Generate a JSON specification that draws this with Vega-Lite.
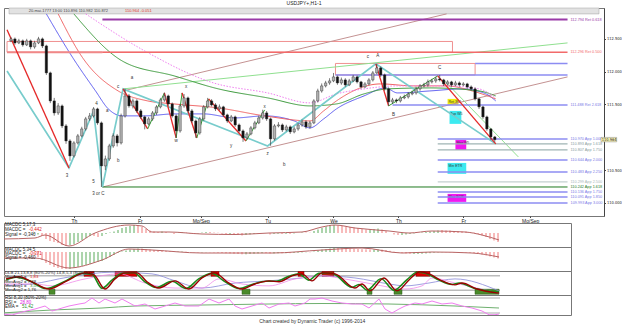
{
"$schema": "https://vega.github.io/schema/vega-lite/v6.json",
"background": "white",
"padding": {"left": 2, "top": 0, "right": 0, "bottom": 0},
"spacing": 7,
"bounds": "flush",
"title": {"text": "Chart created by Dynamic Trader  (c) 1996-2014", "orient": "bottom", "anchor": "middle", "fontSize": 5, "fontWeight": "normal", "font": "Liberation Sans", "color": "#333", "offset": 3},
"config": {
  "view": {"stroke": "#777", "strokeWidth": 1},
  "axis": {"labelFont": "Liberation Sans", "labelColor": "#222", "tickColor": "#444", "domainColor": "#444", "grid": false, "title": null},
  "text": {"font": "Liberation Sans", "fontSize": 4.5}
},
"datasets": {
"c": [
{"i":0,"o":112.470,"h":112.53,"l":112.45,"c":112.499,"a":0,"ad":"g","e":0,"ed":"g"},
{"i":1,"o":112.499,"h":112.52,"l":112.41,"c":112.438,"a":0,"ad":"g","e":0,"ed":"g"},
{"i":2,"o":112.438,"h":112.50,"l":112.42,"c":112.469,"a":0,"ad":"g","e":0,"ed":"g"},
{"i":3,"o":112.469,"h":112.49,"l":112.38,"c":112.408,"a":0,"ad":"g","e":0,"ed":"g"},
{"i":4,"o":112.408,"h":112.50,"l":112.39,"c":112.469,"a":0,"ad":"g","e":0,"ed":"g"},
{"i":5,"o":112.469,"h":112.49,"l":112.34,"c":112.377,"a":0,"ad":"g","e":0,"ed":"g"},
{"i":6,"o":112.377,"h":112.47,"l":112.35,"c":112.438,"a":0,"ad":"g","e":0,"ed":"g"},
{"i":7,"o":112.438,"h":112.53,"l":112.42,"c":112.499,"a":-0.05,"ad":"g","e":-0.10,"ed":"r"},
{"i":8,"o":112.499,"h":112.52,"l":112.36,"c":112.392,"a":-0.075,"ad":"g","e":-0.25,"ed":"r"},
{"i":9,"o":112.392,"h":112.41,"l":111.95,"c":111.981,"a":-0.15,"ad":"r","e":-0.40,"ed":"r"},
{"i":10,"o":111.981,"h":112.00,"l":111.52,"c":111.554,"a":-0.30,"ad":"r","e":-0.55,"ed":"r"},
{"i":11,"o":111.554,"h":111.60,"l":111.33,"c":111.371,"a":-0.40,"ad":"r","e":-0.65,"ed":"r"},
{"i":12,"o":111.371,"h":111.52,"l":111.34,"c":111.478,"a":-0.45,"ad":"r","e":-0.75,"ed":"r"},
{"i":13,"o":111.478,"h":111.50,"l":111.14,"c":111.173,"a":-0.50,"ad":"r","e":-0.80,"ed":"r"},
{"i":14,"o":111.173,"h":111.20,"l":110.90,"c":110.944,"a":-0.60,"ad":"r","e":-0.85,"ed":"r"},
{"i":15,"o":110.944,"h":110.97,"l":110.64,"c":110.716,"a":-0.65,"ad":"r","e":-0.85,"ed":"r"},
{"i":16,"o":110.716,"h":110.94,"l":110.69,"c":110.914,"a":-0.60,"ad":"g","e":-0.85,"ed":"g"},
{"i":17,"o":110.914,"h":111.05,"l":110.89,"c":111.021,"a":-0.55,"ad":"g","e":-0.80,"ed":"g"},
{"i":18,"o":111.021,"h":111.16,"l":111.00,"c":111.127,"a":-0.45,"ad":"g","e":-0.75,"ed":"g"},
{"i":19,"o":111.127,"h":111.31,"l":111.10,"c":111.280,"a":-0.35,"ad":"g","e":-0.70,"ed":"g"},
{"i":20,"o":111.280,"h":111.37,"l":111.25,"c":111.325,"a":-0.25,"ad":"g","e":-0.65,"ed":"g"},
{"i":21,"o":111.325,"h":111.46,"l":111.30,"c":111.432,"a":-0.15,"ad":"g","e":-0.60,"ed":"g"},
{"i":22,"o":111.432,"h":111.45,"l":111.19,"c":111.219,"a":-0.15,"ad":"r","e":-0.55,"ed":"g"},
{"i":23,"o":111.219,"h":111.24,"l":110.242,"c":110.563,"a":-0.20,"ad":"r","e":-0.50,"ed":"g"},
{"i":24,"o":110.563,"h":110.72,"l":110.50,"c":110.670,"a":-0.15,"ad":"g","e":-0.45,"ed":"g"},
{"i":25,"o":110.670,"h":110.90,"l":110.64,"c":110.868,"a":-0.05,"ad":"g","e":-0.35,"ed":"g"},
{"i":26,"o":110.868,"h":111.06,"l":110.84,"c":111.021,"a":0.025,"ad":"g","e":-0.25,"ed":"g"},
{"i":27,"o":111.021,"h":111.05,"l":110.86,"c":110.914,"a":0.075,"ad":"g","e":-0.15,"ed":"g"},
{"i":28,"o":110.914,"h":111.36,"l":110.89,"c":111.325,"a":0.15,"ad":"g","e":-0.05,"ed":"g"},
{"i":29,"o":111.325,"h":111.74,"l":111.30,"c":111.630,"a":0.25,"ad":"g","e":0.025,"ed":"g"},
{"i":30,"o":111.630,"h":111.66,"l":111.45,"c":111.478,"a":0.30,"ad":"g","e":0.075,"ed":"g"},
{"i":31,"o":111.478,"h":111.59,"l":111.44,"c":111.554,"a":0.35,"ad":"g","e":0.125,"ed":"g"},
{"i":32,"o":111.554,"h":111.58,"l":111.37,"c":111.402,"a":0.40,"ad":"g","e":0.15,"ed":"g"},
{"i":33,"o":111.402,"h":111.43,"l":111.28,"c":111.310,"a":0.375,"ad":"r","e":0.175,"ed":"g"},
{"i":34,"o":111.310,"h":111.33,"l":111.12,"c":111.204,"a":0.30,"ad":"r","e":0.175,"ed":"r"},
{"i":35,"o":111.204,"h":111.31,"l":111.18,"c":111.280,"a":0.20,"ad":"r","e":0.15,"ed":"r"},
{"i":36,"o":111.280,"h":111.40,"l":111.25,"c":111.371,"a":0.125,"ad":"r","e":0.125,"ed":"r"},
{"i":37,"o":111.371,"h":111.49,"l":111.34,"c":111.463,"a":0.075,"ad":"r","e":0.10,"ed":"r"},
{"i":38,"o":111.463,"h":111.60,"l":111.44,"c":111.569,"a":0.05,"ad":"r","e":0.075,"ed":"r"},
{"i":39,"o":111.569,"h":111.68,"l":111.54,"c":111.630,"a":0.075,"ad":"g","e":0.06,"ed":"r"},
{"i":40,"o":111.630,"h":111.65,"l":111.48,"c":111.508,"a":0.05,"ad":"r","e":0.05,"ed":"r"},
{"i":41,"o":111.508,"h":111.53,"l":111.30,"c":111.325,"a":0,"ad":"r","e":0.04,"ed":"r"},
{"i":42,"o":111.325,"h":111.35,"l":110.99,"c":111.097,"a":-0.05,"ad":"r","e":0.025,"ed":"r"},
{"i":43,"o":111.097,"h":111.51,"l":111.07,"c":111.478,"a":0.025,"ad":"g","e":0.025,"ed":"g"},
{"i":44,"o":111.478,"h":111.66,"l":111.45,"c":111.600,"a":0.05,"ad":"g","e":0.025,"ed":"g"},
{"i":45,"o":111.600,"h":111.62,"l":111.37,"c":111.402,"a":0.025,"ad":"r","e":0.015,"ed":"r"},
{"i":46,"o":111.402,"h":111.43,"l":111.22,"c":111.249,"a":-0.025,"ad":"r","e":0,"ed":"r"},
{"i":47,"o":111.249,"h":111.27,"l":110.99,"c":111.066,"a":-0.05,"ad":"r","e":-0.015,"ed":"r"},
{"i":48,"o":111.066,"h":111.31,"l":111.04,"c":111.280,"a":-0.025,"ad":"g","e":-0.025,"ed":"r"},
{"i":49,"o":111.280,"h":111.49,"l":111.25,"c":111.463,"a":0.025,"ad":"g","e":-0.025,"ed":"g"},
{"i":50,"o":111.463,"h":111.60,"l":111.44,"c":111.554,"a":0.05,"ad":"g","e":-0.015,"ed":"g"},
{"i":51,"o":111.554,"h":111.58,"l":111.47,"c":111.493,"a":0.05,"ad":"r","e":-0.015,"ed":"r"},
{"i":52,"o":111.493,"h":111.52,"l":111.40,"c":111.432,"a":0.025,"ad":"r","e":-0.025,"ed":"r"},
{"i":53,"o":111.432,"h":111.50,"l":111.41,"c":111.463,"a":0.015,"ad":"r","e":-0.04,"ed":"r"},
{"i":54,"o":111.463,"h":111.48,"l":111.31,"c":111.341,"a":-0.025,"ad":"r","e":-0.05,"ed":"r"},
{"i":55,"o":111.341,"h":111.36,"l":111.22,"c":111.249,"a":-0.05,"ad":"r","e":-0.065,"ed":"r"},
{"i":56,"o":111.249,"h":111.34,"l":111.23,"c":111.310,"a":-0.05,"ad":"g","e":-0.075,"ed":"r"},
{"i":57,"o":111.310,"h":111.33,"l":111.16,"c":111.188,"a":-0.075,"ad":"r","e":-0.09,"ed":"r"},
{"i":58,"o":111.188,"h":111.21,"l":111.07,"c":111.097,"a":-0.10,"ad":"r","e":-0.10,"ed":"r"},
{"i":59,"o":111.097,"h":111.12,"l":110.93,"c":110.990,"a":-0.125,"ad":"r","e":-0.115,"ed":"r"},
{"i":60,"o":110.990,"h":111.08,"l":110.96,"c":111.051,"a":-0.10,"ad":"g","e":-0.115,"ed":"g"},
{"i":61,"o":111.051,"h":111.17,"l":111.03,"c":111.143,"a":-0.075,"ad":"g","e":-0.10,"ed":"g"},
{"i":62,"o":111.143,"h":111.25,"l":111.12,"c":111.219,"a":-0.05,"ad":"g","e":-0.09,"ed":"g"},
{"i":63,"o":111.219,"h":111.33,"l":111.20,"c":111.295,"a":-0.025,"ad":"g","e":-0.075,"ed":"g"},
{"i":64,"o":111.295,"h":111.42,"l":111.27,"c":111.371,"a":0,"ad":"g","e":-0.06,"ed":"g"},
{"i":65,"o":111.371,"h":111.40,"l":111.25,"c":111.280,"a":0,"ad":"r","e":-0.06,"ed":"r"},
{"i":66,"o":111.280,"h":111.30,"l":110.87,"c":110.975,"a":-0.075,"ad":"r","e":-0.075,"ed":"r"},
{"i":67,"o":110.975,"h":111.20,"l":110.95,"c":111.173,"a":-0.05,"ad":"g","e":-0.075,"ed":"g"},
{"i":68,"o":111.173,"h":111.23,"l":111.15,"c":111.188,"a":-0.04,"ad":"g","e":-0.065,"ed":"g"},
{"i":69,"o":111.188,"h":111.21,"l":111.08,"c":111.112,"a":-0.05,"ad":"r","e":-0.065,"ed":"r"},
{"i":70,"o":111.112,"h":111.19,"l":111.09,"c":111.158,"a":-0.04,"ad":"g","e":-0.06,"ed":"g"},
{"i":71,"o":111.158,"h":111.18,"l":111.05,"c":111.082,"a":-0.05,"ad":"r","e":-0.06,"ed":"r"},
{"i":72,"o":111.082,"h":111.16,"l":111.06,"c":111.127,"a":-0.025,"ad":"g","e":-0.05,"ed":"g"},
{"i":73,"o":111.127,"h":111.22,"l":111.10,"c":111.188,"a":0,"ad":"g","e":-0.04,"ed":"g"},
{"i":74,"o":111.188,"h":111.27,"l":111.16,"c":111.234,"a":0.025,"ad":"g","e":-0.025,"ed":"g"},
{"i":75,"o":111.234,"h":111.26,"l":111.13,"c":111.158,"a":0.025,"ad":"r","e":-0.015,"ed":"g"},
{"i":76,"o":111.158,"h":111.25,"l":111.13,"c":111.219,"a":0.015,"ad":"r","e":-0.015,"ed":"r"},
{"i":77,"o":111.219,"h":111.58,"l":111.20,"c":111.554,"a":0.10,"ad":"g","e":0.025,"ed":"g"},
{"i":78,"o":111.554,"h":111.74,"l":111.53,"c":111.706,"a":0.175,"ad":"g","e":0.075,"ed":"g"},
{"i":79,"o":111.706,"h":111.82,"l":111.68,"c":111.783,"a":0.25,"ad":"g","e":0.125,"ed":"g"},
{"i":80,"o":111.783,"h":111.86,"l":111.76,"c":111.828,"a":0.325,"ad":"g","e":0.15,"ed":"g"},
{"i":81,"o":111.828,"h":111.90,"l":111.80,"c":111.859,"a":0.375,"ad":"g","e":0.175,"ed":"g"},
{"i":82,"o":111.859,"h":111.98,"l":111.84,"c":111.920,"a":0.40,"ad":"g","e":0.20,"ed":"g"},
{"i":83,"o":111.920,"h":111.94,"l":111.80,"c":111.828,"a":0.375,"ad":"r","e":0.20,"ed":"r"},
{"i":84,"o":111.828,"h":111.91,"l":111.80,"c":111.874,"a":0.35,"ad":"r","e":0.19,"ed":"r"},
{"i":85,"o":111.874,"h":111.90,"l":111.77,"c":111.798,"a":0.325,"ad":"r","e":0.18,"ed":"r"},
{"i":86,"o":111.798,"h":111.89,"l":111.78,"c":111.859,"a":0.30,"ad":"r","e":0.17,"ed":"r"},
{"i":87,"o":111.859,"h":111.95,"l":111.84,"c":111.920,"a":0.275,"ad":"r","e":0.16,"ed":"r"},
{"i":88,"o":111.920,"h":111.94,"l":111.82,"c":111.844,"a":0.25,"ad":"r","e":0.15,"ed":"r"},
{"i":89,"o":111.844,"h":111.86,"l":111.74,"c":111.767,"a":0.20,"ad":"r","e":0.14,"ed":"r"},
{"i":90,"o":111.767,"h":111.84,"l":111.75,"c":111.813,"a":0.175,"ad":"r","e":0.13,"ed":"r"},
{"i":91,"o":111.813,"h":111.90,"l":111.79,"c":111.874,"a":0.175,"ad":"g","e":0.125,"ed":"r"},
{"i":92,"o":111.874,"h":112.01,"l":111.85,"c":111.981,"a":0.20,"ad":"g","e":0.125,"ed":"g"},
{"i":93,"o":111.981,"h":112.118,"l":111.96,"c":112.057,"a":0.225,"ad":"g","e":0.13,"ed":"g"},
{"i":94,"o":112.057,"h":112.08,"l":111.92,"c":111.950,"a":0.175,"ad":"r","e":0.12,"ed":"r"},
{"i":95,"o":111.950,"h":111.97,"l":111.71,"c":111.737,"a":0.10,"ad":"r","e":0.10,"ed":"r"},
{"i":96,"o":111.737,"h":111.76,"l":111.478,"c":111.539,"a":0,"ad":"r","e":0.06,"ed":"r"},
{"i":97,"o":111.539,"h":111.60,"l":111.51,"c":111.569,"a":-0.075,"ad":"r","e":0.015,"ed":"r"},
{"i":98,"o":111.569,"h":111.59,"l":111.52,"c":111.554,"a":-0.10,"ad":"r","e":-0.025,"ed":"r"},
{"i":99,"o":111.554,"h":111.63,"l":111.53,"c":111.600,"a":-0.10,"ad":"g","e":-0.05,"ed":"r"},
{"i":100,"o":111.600,"h":111.65,"l":111.58,"c":111.615,"a":-0.075,"ad":"g","e":-0.075,"ed":"r"},
{"i":101,"o":111.615,"h":111.69,"l":111.59,"c":111.661,"a":-0.05,"ad":"g","e":-0.09,"ed":"r"},
{"i":102,"o":111.661,"h":111.71,"l":111.64,"c":111.676,"a":-0.025,"ad":"g","e":-0.10,"ed":"g"},
{"i":103,"o":111.676,"h":111.77,"l":111.65,"c":111.737,"a":0,"ad":"g","e":-0.10,"ed":"g"},
{"i":104,"o":111.737,"h":111.81,"l":111.71,"c":111.783,"a":0.025,"ad":"g","e":-0.09,"ed":"g"},
{"i":105,"o":111.783,"h":111.83,"l":111.76,"c":111.798,"a":0.05,"ad":"g","e":-0.075,"ed":"g"},
{"i":106,"o":111.798,"h":111.88,"l":111.77,"c":111.844,"a":0.075,"ad":"g","e":-0.06,"ed":"g"},
{"i":107,"o":111.844,"h":111.89,"l":111.82,"c":111.859,"a":0.10,"ad":"g","e":-0.04,"ed":"g"},
{"i":108,"o":111.859,"h":111.92,"l":111.83,"c":111.889,"a":0.125,"ad":"g","e":-0.025,"ed":"g"},
{"i":109,"o":111.889,"h":111.95,"l":111.85,"c":111.874,"a":0.15,"ad":"r","e":-0.015,"ed":"g"},
{"i":110,"o":111.874,"h":111.89,"l":111.78,"c":111.813,"a":0.125,"ad":"r","e":-0.015,"ed":"r"},
{"i":111,"o":111.813,"h":111.87,"l":111.79,"c":111.844,"a":0.125,"ad":"r","e":-0.015,"ed":"r"},
{"i":112,"o":111.844,"h":111.86,"l":111.77,"c":111.798,"a":0.10,"ad":"r","e":-0.02,"ed":"r"},
{"i":113,"o":111.798,"h":111.86,"l":111.78,"c":111.828,"a":0.10,"ad":"r","e":-0.02,"ed":"r"},
{"i":114,"o":111.828,"h":111.85,"l":111.77,"c":111.798,"a":0.075,"ad":"r","e":-0.025,"ed":"r"},
{"i":115,"o":111.798,"h":111.84,"l":111.78,"c":111.813,"a":0.075,"ad":"r","e":-0.03,"ed":"r"},
{"i":116,"o":111.813,"h":111.83,"l":111.74,"c":111.767,"a":0.05,"ad":"r","e":-0.04,"ed":"r"},
{"i":117,"o":111.767,"h":111.79,"l":111.71,"c":111.737,"a":0.025,"ad":"r","e":-0.05,"ed":"r"},
{"i":118,"o":111.737,"h":111.76,"l":111.56,"c":111.585,"a":-0.05,"ad":"r","e":-0.09,"ed":"r"},
{"i":119,"o":111.585,"h":111.60,"l":111.43,"c":111.463,"a":-0.125,"ad":"r","e":-0.125,"ed":"r"},
{"i":120,"o":111.463,"h":111.48,"l":111.28,"c":111.310,"a":-0.20,"ad":"r","e":-0.175,"ed":"r"},
{"i":121,"o":111.310,"h":111.33,"l":111.10,"c":111.127,"a":-0.30,"ad":"r","e":-0.225,"ed":"r"},
{"i":122,"o":111.127,"h":111.14,"l":110.96,"c":111.005,"a":-0.375,"ad":"r","e":-0.275,"ed":"r"},
{"i":123,"o":111.005,"h":111.02,"l":110.93,"c":110.964,"a":-0.45,"ad":"r","e":-0.325,"ed":"r"}
],
"ma": [
{"m":"MA1","i":9,"p":112.88},{"m":"MA1","i":15.75,"p":112.209},{"m":"MA1","i":21.5,"p":111.706},{"m":"MA1","i":24.75,"p":111.432},{"m":"MA1","i":28.25,"p":111.326},{"m":"MA1","i":34,"p":111.326},{"m":"MA1","i":41.5,"p":111.356},{"m":"MA1","i":49,"p":111.356},{"m":"MA1","i":57,"p":111.295},{"m":"MA1","i":64.5,"p":111.326},{"m":"MA1","i":72,"p":111.249},{"m":"MA1","i":76,"p":111.143},{"m":"MA1","i":79.5,"p":111.28},{"m":"MA1","i":82.75,"p":111.432},{"m":"MA1","i":89.75,"p":111.63},{"m":"MA1","i":95.25,"p":111.752},{"m":"MA1","i":98.25,"p":111.676},{"m":"MA1","i":106.5,"p":111.706},{"m":"MA1","i":114.75,"p":111.737},{"m":"MA1","i":120.75,"p":111.661},{"m":"MA1","i":123.25,"p":111.554},
{"m":"MA2","i":12,"p":112.88},{"m":"MA2","i":18.25,"p":112.209},{"m":"MA2","i":27.25,"p":111.706},{"m":"MA2","i":34.75,"p":111.554},{"m":"MA2","i":41.5,"p":111.508},{"m":"MA2","i":52.75,"p":111.447},{"m":"MA2","i":64.5,"p":111.326},{"m":"MA2","i":76,"p":111.249},{"m":"MA2","i":79.5,"p":111.402},{"m":"MA2","i":82.75,"p":111.554},{"m":"MA2","i":94,"p":111.813},{"m":"MA2","i":102.25,"p":111.783},{"m":"MA2","i":110.75,"p":111.783},{"m":"MA2","i":117.25,"p":111.706},{"m":"MA2","i":123.25,"p":111.585},
{"m":"MA3","i":16,"p":112.88},{"m":"MA3","i":28.25,"p":112.164},{"m":"MA3","i":41.5,"p":111.935},{"m":"MA3","i":52.75,"p":111.737},{"m":"MA3","i":65.25,"p":111.6},{"m":"MA3","i":76,"p":111.478},{"m":"MA3","i":82.75,"p":111.508},{"m":"MA3","i":89.75,"p":111.661},{"m":"MA3","i":95.75,"p":111.737},{"m":"MA3","i":106.5,"p":111.752},{"m":"MA3","i":119,"p":111.706},{"m":"MA3","i":123.25,"p":111.63},
{"m":"MA4","i":19,"p":112.88},{"m":"MA4","i":34,"p":112.316},{"m":"MA4","i":51.5,"p":111.828},{"m":"MA4","i":65.25,"p":111.676},{"m":"MA4","i":76,"p":111.524},{"m":"MA4","i":82.75,"p":111.661},{"m":"MA4","i":89.75,"p":111.737},{"m":"MA4","i":98.25,"p":111.783},{"m":"MA4","i":110.75,"p":111.783},{"m":"MA4","i":119,"p":111.737},{"m":"MA4","i":123.25,"p":111.6}
],
"zz": [
{"s":"cy","k":"cyan","i":-1,"p":112.011},{"s":"cy","k":"cyan","i":14.75,"p":110.533},{"s":"cy","k":"cyan","i":21,"p":111.402},{"s":"cy","k":"cyan","i":23.25,"p":110.242},{"s":"cy","k":"cyan","i":28.5,"p":111.737},{"s":"cy","k":"cyan","i":65.25,"p":110.868},{"s":"cy","k":"cyan","i":92.75,"p":112.118},{"s":"cy","k":"cyan","i":123.25,"p":110.899},
{"s":"r1","k":"red","i":-1,"p":112.64},{"s":"r1","k":"red","i":14.75,"p":110.533},
{"s":"r2","k":"red","i":28.5,"p":111.737},{"s":"r2","k":"red","i":34.75,"p":111.127},
{"s":"g1","k":"green","i":34.75,"p":111.127},{"s":"g1","k":"green","i":39,"p":111.676},
{"s":"r3","k":"red","i":39,"p":111.676},{"s":"r3","k":"red","i":42,"p":110.99},
{"s":"g2","k":"green","i":42,"p":110.99},{"s":"g2","k":"green","i":43.5,"p":111.676},
{"s":"r4","k":"red","i":43.5,"p":111.676},{"s":"r4","k":"red","i":47.25,"p":110.99},
{"s":"g3","k":"green","i":47.25,"p":110.99},{"s":"g3","k":"green","i":50.25,"p":111.585},
{"s":"r5","k":"red","i":50.25,"p":111.585},{"s":"r5","k":"red","i":59.75,"p":110.944},
{"s":"g4","k":"green","i":59.75,"p":110.944},{"s":"g4","k":"green","i":64.5,"p":111.417},
{"s":"r6","k":"red","i":92.75,"p":112.118},{"s":"r6","k":"red","i":96,"p":111.478},
{"s":"g5","k":"green","i":96,"p":111.478},{"s":"g5","k":"green","i":108.5,"p":111.935},
{"s":"r7","k":"red","i":108.5,"p":111.935},{"s":"r7","k":"red","i":123.25,"p":110.899}
],
"diag": [
{"n":"chU","i":28.5,"p":111.706},{"n":"chU","i":110.75,"p":112.88},
{"n":"chL","i":23.25,"p":110.242},{"n":"chL","i":141.5,"p":111.92},
{"n":"lg","i":28.5,"p":111.737},{"n":"lg","i":141.5,"p":112.438},
{"n":"lg2","i":110.25,"p":111.859},{"n":"lg2","i":129,"p":110.70}
],
"lv": [
{"k":"ret618","i":23.25,"i2":141.5,"p":112.794,"t":"112.794 Ret 0.618"},
{"k":"redthin","i":-1,"i2":23.25,"p":112.296},
{"k":"ret500","i":23.25,"i2":141.5,"p":112.296,"t":"112.296 Ret 0.500"},
{"k":"blue","i":118,"i2":141.5,"p":112.125},
{"k":"blue","i":82.5,"i2":141.5,"p":111.95},
{"k":"blue","i":97,"i2":141.5,"p":111.493,"t":"111.488 Ret 2.618"},
{"k":"blue","i":108.5,"i2":141.5,"p":110.975,"t":"110.970 App 1.000"},
{"k":"gray","i":108.5,"i2":141.5,"p":110.899,"t":"110.893 App 1.618"},
{"k":"gray","i":108.5,"i2":141.5,"p":110.807,"t":"110.807 App 1.750"},
{"k":"blue","i":108.5,"i2":141.5,"p":110.655,"t":"110.644 App 2.000"},
{"k":"blue","i":108.5,"i2":141.5,"p":110.472,"t":"110.483 App 2.250"},
{"k":"lgray","i":108.5,"i2":141.5,"p":110.32,"t":"110.299 App 2.500"},
{"k":"green","i":23.25,"i2":141.5,"p":110.242,"t":"110.242 App 1.618"},
{"k":"blue","i":108.5,"i2":141.5,"p":110.167,"t":"110.136 App 1.750"},
{"k":"blue","i":108.5,"i2":141.5,"p":110.091,"t":"110.091 App 1.850"},
{"k":"blue","i":108.5,"i2":141.5,"p":110.0,"t":"109.993 App 3.000"}
],
"wl": [
{"t":"3","i":14.25,"p":110.411},{"t":"4","i":21.75,"p":111.508},{"t":"5","i":21,"p":110.32},{"t":"3 or C","i":22.25,"p":110.137},{"t":"c","i":27.25,"p":111.77},{"t":"a","i":30.75,"p":111.905},{"t":"a","i":24.5,"p":111.402},{"t":"b","i":27.25,"p":110.64},{"t":"w","i":42,"p":110.94},{"t":"x","i":44.5,"p":111.76},{"t":"y","i":56,"p":110.868},{"t":"x","i":64.5,"p":111.46},{"t":"z","i":65.25,"p":110.746},{"t":"b","i":69.5,"p":110.579},{"t":"c","i":90.75,"p":112.225},{"t":"A","i":93.25,"p":112.24},{"t":"B","i":97.25,"p":111.341},{"t":"C","i":109,"p":112.057}
],
"mal": [
{"m":"MA1","l":"MA1 =","v":"111.821","p":112.865},{"m":"MA2","l":"MA2 =","v":"111.392","p":112.789},{"m":"MA3","l":"MA3 =","v":"111.595","p":112.713},{"m":"MA4","l":"MA4 =","v":"111.609","p":112.636}
],
"boxes": [
{"k":"yel","i":111,"i2":113.75,"p":111.493,"p2":111.585,"t":"Ret 382"},
{"k":"cyan","i":111.5,"i2":114.5,"p":111.204,"p2":111.402,"t":"Typ W5"},
{"k":"mag","i":113,"i2":115.75,"p":110.807,"p2":110.96,"t":"Max W5"},
{"k":"cyan","i":111,"i2":115.75,"p":110.442,"p2":110.609,"t":"Min ETR"},
{"k":"mag","i":111,"i2":115.75,"p":110.015,"p2":110.137,"t":"Max ECR"}
],
"s1": [
{"i":-1,"v":-0.30},{"i":7.25,"v":-0.25},{"i":9.75,"v":-0.10},{"i":15.75,"v":-0.65},{"i":22.25,"v":0},{"i":30.75,"v":0.40},{"i":34,"v":0.35},{"i":36.5,"v":0.05},{"i":40.75,"v":0.05},{"i":49,"v":-0.05},{"i":57.25,"v":-0.075},{"i":65.75,"v":0},{"i":74,"v":0.05},{"i":79,"v":0.30},{"i":82.25,"v":0.40},{"i":87.25,"v":0.25},{"i":95.75,"v":0.10},{"i":100.75,"v":0},{"i":106.5,"v":0.10},{"i":114.75,"v":0.05},{"i":119,"v":-0.10},{"i":123.25,"v":-0.35}
],
"s2": [
{"i":-1,"v":-0.30},{"i":7.25,"v":-0.30},{"i":15.75,"v":-0.80},{"i":24,"v":-0.40},{"i":30.75,"v":0.15},{"i":36.5,"v":0.10},{"i":49,"v":-0.05},{"i":66.5,"v":-0.05},{"i":79,"v":0.10},{"i":89,"v":0.20},{"i":99,"v":-0.05},{"i":106.5,"v":0},{"i":116.5,"v":-0.05},{"i":123.25,"v":-0.25}
],
"st": [
{"s":"r","i":0,"v":67},{"s":"r","i":3.25,"v":76},{"s":"r","i":6.5,"v":55},{"s":"r","i":10.75,"v":25},{"s":"r","i":15.25,"v":59},{"s":"r","i":19.75,"v":92},{"s":"r","i":22,"v":84},{"s":"r","i":24.75,"v":25},{"s":"r","i":27.25,"v":67},{"s":"r","i":29.75,"v":92},{"s":"r","i":32.75,"v":92},{"s":"r","i":35.25,"v":55},{"s":"r","i":38.25,"v":29},{"s":"r","i":42.25,"v":59},{"s":"r","i":45.75,"v":25},{"s":"r","i":49,"v":71},{"s":"r","i":52.25,"v":92},{"s":"r","i":55.25,"v":55},{"s":"r","i":59,"v":25},{"s":"r","i":62.25,"v":46},{"s":"r","i":65.75,"v":59},{"s":"r","i":68.25,"v":55},{"s":"r","i":71.5,"v":80},{"s":"r","i":74,"v":88},{"s":"r","i":76.5,"v":59},{"s":"r","i":79,"v":92},{"s":"r","i":82.25,"v":88},{"s":"r","i":87.25,"v":29},{"s":"r","i":89,"v":46},{"s":"r","i":91,"v":17},{"s":"r","i":94.5,"v":71},{"s":"r","i":97.75,"v":17},{"s":"r","i":101,"v":67},{"s":"r","i":103.5,"v":97},{"s":"r","i":105.75,"v":88},{"s":"r","i":109,"v":59},{"s":"r","i":112.25,"v":42},{"s":"r","i":114,"v":50},{"s":"r","i":117.75,"v":25},{"s":"r","i":123.25,"v":8},
{"s":"g","i":0,"v":62},{"s":"g","i":2.5,"v":74},{"s":"g","i":6,"v":58},{"s":"g","i":10,"v":27},{"s":"g","i":14.5,"v":55},{"s":"g","i":19,"v":90},{"s":"g","i":21.5,"v":86},{"s":"g","i":24,"v":28},{"s":"g","i":26.5,"v":62},{"s":"g","i":29,"v":90},{"s":"g","i":32,"v":93},{"s":"g","i":34.5,"v":58},{"s":"g","i":37.5,"v":31},{"s":"g","i":41.5,"v":57},{"s":"g","i":45,"v":27},{"s":"g","i":48.25,"v":68},{"s":"g","i":51.5,"v":90},{"s":"g","i":54.5,"v":58},{"s":"g","i":58.25,"v":27},{"s":"g","i":61.5,"v":44},{"s":"g","i":65,"v":57},{"s":"g","i":67.5,"v":57},{"s":"g","i":70.75,"v":78},{"s":"g","i":73.25,"v":88},{"s":"g","i":75.75,"v":62},{"s":"g","i":78.25,"v":90},{"s":"g","i":81.5,"v":90},{"s":"g","i":86.5,"v":32},{"s":"g","i":88.25,"v":44},{"s":"g","i":90.25,"v":20},{"s":"g","i":93.75,"v":68},{"s":"g","i":97,"v":20},{"s":"g","i":100.25,"v":64},{"s":"g","i":102.75,"v":95},{"s":"g","i":105,"v":90},{"s":"g","i":108.25,"v":62},{"s":"g","i":111.5,"v":44},{"s":"g","i":113.25,"v":50},{"s":"g","i":117,"v":28},{"s":"g","i":123.25,"v":12},
{"s":"b","i":0,"v":40},{"s":"b","i":6.5,"v":46},{"s":"b","i":15.75,"v":75},{"s":"b","i":26.5,"v":95},{"s":"b","i":36.5,"v":88},{"s":"b","i":42.25,"v":59},{"s":"b","i":49,"v":29},{"s":"b","i":57.25,"v":50},{"s":"b","i":65.75,"v":59},{"s":"b","i":74,"v":71},{"s":"b","i":79,"v":80},{"s":"b","i":87.25,"v":71},{"s":"b","i":95.75,"v":46},{"s":"b","i":99.75,"v":38},{"s":"b","i":105.75,"v":50},{"s":"b","i":112.25,"v":67},{"s":"b","i":123.25,"v":17},
{"s":"p","i":-1,"v":46},{"s":"p","i":7.25,"v":46},{"s":"p","i":11.5,"v":38},{"s":"p","i":19.75,"v":67},{"s":"p","i":28.25,"v":88},{"s":"p","i":34.75,"v":50},{"s":"p","i":42.25,"v":29},{"s":"p","i":49,"v":29},{"s":"p","i":53.25,"v":67},{"s":"p","i":59,"v":46},{"s":"p","i":65.75,"v":38},{"s":"p","i":72.25,"v":67},{"s":"p","i":79,"v":80},{"s":"p","i":83.25,"v":71},{"s":"p","i":91.5,"v":46},{"s":"p","i":99.75,"v":25},{"s":"p","i":104,"v":38},{"s":"p","i":106.5,"v":71},{"s":"p","i":112.25,"v":50},{"s":"p","i":123.25,"v":8}
],
"zn": [
{"k":"ob","i":19.5,"i2":22,"v":78,"v2":98},{"k":"ob","i":27.25,"i2":32.75,"v":78,"v2":98},{"k":"ob","i":51.25,"i2":53.25,"v":78,"v2":98},{"k":"ob","i":73,"i2":74.5,"v":78,"v2":98},{"k":"ob","i":79,"i2":82,"v":78,"v2":98},{"k":"ob","i":102.5,"i2":106,"v":78,"v2":98},
{"k":"os","i":10.75,"i2":12.25,"v":3,"v2":24},{"k":"os","i":59,"i2":61,"v":3,"v2":24},{"k":"os","i":90.25,"i2":91.5,"v":3,"v2":24},{"k":"os","i":97,"i2":99,"v":3,"v2":24},{"k":"os","i":117.25,"i2":123.25,"v":3,"v2":24}
],
"hz": [
{"i":-0.5,"i2":123.5,"v":80},{"i":-0.5,"i2":123.5,"v":20}
],
"rsi": [
{"s":"r","i":-1,"v":16},{"s":"r","i":1.5,"v":12},{"s":"r","i":4,"v":24},{"s":"r","i":7.25,"v":36},{"s":"r","i":9.75,"v":48},{"s":"r","i":11.5,"v":28},{"s":"r","i":15.75,"v":48},{"s":"r","i":18.25,"v":56},{"s":"r","i":19.75,"v":60},{"s":"r","i":21.5,"v":80},{"s":"r","i":23.25,"v":60},{"s":"r","i":24.75,"v":76},{"s":"r","i":27.25,"v":60},{"s":"r","i":29,"v":76},{"s":"r","i":32.25,"v":48},{"s":"r","i":34.75,"v":56},{"s":"r","i":37.25,"v":36},{"s":"r","i":39.75,"v":48},{"s":"r","i":42.25,"v":60},{"s":"r","i":44.75,"v":48},{"s":"r","i":48.25,"v":48},{"s":"r","i":50.75,"v":76},{"s":"r","i":53.25,"v":60},{"s":"r","i":55.75,"v":76},{"s":"r","i":57.25,"v":48},{"s":"r","i":59,"v":36},{"s":"r","i":61.5,"v":48},{"s":"r","i":64,"v":60},{"s":"r","i":65.75,"v":40},{"s":"r","i":68.25,"v":56},{"s":"r","i":70.75,"v":60},{"s":"r","i":72.25,"v":48},{"s":"r","i":74.75,"v":60},{"s":"r","i":76,"v":76},{"s":"r","i":77.25,"v":76},{"s":"r","i":79,"v":80},{"s":"r","i":81.5,"v":68},{"s":"r","i":84,"v":60},{"s":"r","i":86.5,"v":56},{"s":"r","i":89,"v":56},{"s":"r","i":90.75,"v":40},{"s":"r","i":93.25,"v":76},{"s":"r","i":94.75,"v":36},{"s":"r","i":96.5,"v":20},{"s":"r","i":98.25,"v":36},{"s":"r","i":99.75,"v":48},{"s":"r","i":102.25,"v":60},{"s":"r","i":104,"v":56},{"s":"r","i":106.5,"v":68},{"s":"r","i":109,"v":56},{"s":"r","i":111.5,"v":60},{"s":"r","i":114,"v":48},{"s":"r","i":116.5,"v":40},{"s":"r","i":119,"v":28},{"s":"r","i":120.75,"v":13},{"s":"r","i":122.25,"v":13},{"s":"r","i":123.25,"v":16},
{"s":"e","i":-1,"v":20},{"s":"e","i":11.5,"v":32},{"s":"e","i":24,"v":40},{"s":"e","i":32.25,"v":48},{"s":"e","i":49,"v":52},{"s":"e","i":65.75,"v":56},{"s":"e","i":79,"v":58},{"s":"e","i":95.75,"v":56},{"s":"e","i":112.25,"v":48},{"s":"e","i":123.25,"v":40}
],
"leg1": [
{"t":"MACDC 5,17,3","i":-0.25,"v":0.40,"k":"lab"},{"t":"MACDC =","i":-0.25,"v":0.15,"k":"lab"},{"t":"-0,442","i":5.75,"v":0.15,"k":"red"},{"t":"Signal = -0,340","i":-0.25,"v":-0.10,"k":"lab"}
],
"leg2": [
{"t":"MACDC 5,34,5","i":-0.25,"v":0.10,"k":"lab"},{"t":"MACDC =","i":-0.25,"v":-0.10,"k":"lab"},{"t":"-0,371","i":5.75,"v":-0.10,"k":"red"},{"t":"Signal = -0,460","i":-0.25,"v":-0.30,"k":"lab"}
],
"leg3": [
{"t":"DLB 21,13,8,8 (80%-20%) 14,8,5,3 (80%-20%)","i":-0.25,"v":92,"k":"lab"},{"t":"MovAvg1 =","i":-0.25,"v":73,"k":"lab"},{"t":"1,83","i":6,"v":73,"k":"red"},{"t":"MovAvg2 = 7,28","i":-0.25,"v":55,"k":"lab"},{"t":"MovAvg1 =","i":-0.25,"v":37,"k":"lab"},{"t":"3,57","i":6,"v":37,"k":"grn"},{"t":"MovAvg2 = 1,76","i":-0.25,"v":19,"k":"lab"}
],
"leg4": [
{"t":"RSI 8,30 (80%-20%)","i":-0.25,"v":80,"k":"lab"},{"t":"RSI =","i":-0.25,"v":61,"k":"lab"},{"t":"28,80","i":3.5,"v":61,"k":"mag"},{"t":"EMA =","i":-0.25,"v":43,"k":"lab"},{"t":"51,42","i":4,"v":43,"k":"grn"}
]
},
"vconcat": [
{
"width": 600, "height": 208,
"title": {"text": "USDJPY+,H1-1", "fontSize": 5, "fontWeight": "normal", "font": "Liberation Sans", "color": "#222", "offset": 1.5, "anchor": "middle"},
"encoding": {
  "x": {"field": "i", "type": "quantitative", "scale": {"domain": [-0.5, 149.5], "nice": false, "zero": false},
        "axis": {"orient": "bottom", "values": [16, 32.75, 48.25, 65.25, 82, 98.5, 115, 132], "labelExpr": "['Th','Fr','Mo/Sep','Tu','We','Th','Fr','Mo/Sep'][indexof([16,32.75,48.25,65.25,82,98.5,115,132], datum.value)]", "labelFontSize": 5, "tickSize": 1.5, "labelPadding": 0.5, "domain": false, "title": null, "labelOverlap": false, "labelFlush": false}},
  "y": {"field": "p", "type": "quantitative", "scale": {"domain": [109.8, 112.97], "nice": false, "zero": false},
        "axis": {"orient": "right", "values": [110, 110.5, 111.5, 112, 112.5], "format": ".3f", "labelFontSize": 4, "labelFont": "DejaVu Sans Condensed", "tickSize": 1.5, "labelPadding": 1, "domain": true, "title": null}}
},
"resolve": {"scale": {"color": "independent", "strokeWidth": "independent", "strokeDash": "independent"}},
"layer": [
  {"data": {"values": [{"i": -0.5, "i2": 149.5, "p": 112.88, "p2": 112.97}]}, "mark": {"type": "rect", "fill": "#e2e2e2", "stroke": "#a0a0a0", "strokeWidth": 0.5}, "encoding": {"x2": {"field": "i2"}, "y2": {"field": "p2"}}},
  {"data": {"values": [{"i": 4.5, "p": 112.925, "t": "20-mai-1777 13:00   110.896   110.982   110.872"}]}, "mark": {"type": "text", "align": "left", "baseline": "middle", "fontSize": 4, "color": "#444"}, "encoding": {"text": {"field": "t"}}},
  {"data": {"values": [{"i": 29, "p": 112.925, "t": "110.964   -0.051"}]}, "mark": {"type": "text", "align": "left", "baseline": "middle", "fontSize": 4, "color": "#e03a2a"}, "encoding": {"text": {"field": "t"}}},
  {"data": {"values": [{"i": -1, "i2": 112.25, "p": 112.296, "p2": 112.46}, {"i": 82.5, "i2": 118, "p": 111.95, "p2": 112.125}]}, "mark": {"type": "rect", "fillOpacity": 0, "stroke": "#f09090", "strokeWidth": 1, "clip": true}, "encoding": {"x2": {"field": "i2"}, "y2": {"field": "p2"}}},
  {"data": {"name": "boxes"}, "mark": {"type": "rect", "clip": true}, "encoding": {"x2": {"field": "i2"}, "y2": {"field": "p2"}, "color": {"field": "k", "type": "nominal", "scale": {"domain": ["yel", "cyan", "mag"], "range": ["#f2ee10", "#3ceaf0", "#f018f0"]}, "legend": null}}},
  {"data": {"name": "boxes"}, "mark": {"type": "text", "align": "left", "baseline": "top", "fontSize": 3.5, "dx": 1, "dy": 1, "color": "#333"}, "encoding": {"y": {"field": "p2", "type": "quantitative", "scale": {"domain": [109.8, 112.97], "nice": false, "zero": false}, "title": null}, "text": {"field": "t"}}},
  {"data": {"name": "diag"}, "mark": {"type": "line", "strokeWidth": 1, "clip": true}, "encoding": {"detail": {"field": "n"}, "color": {"field": "n", "type": "nominal", "scale": {"domain": ["chU", "chL", "lg", "lg2"], "range": ["#c49292", "#c49292", "#90e090", "#90e090"]}, "legend": null}}},
  {"data": {"name": "ma"}, "mark": {"type": "line", "strokeWidth": 1, "interpolate": "monotone", "clip": true}, "encoding": {"color": {"field": "m", "type": "nominal", "scale": {"domain": ["MA1", "MA2", "MA3", "MA4"], "range": ["#5a5af0", "#f06060", "#3c9a3c", "#f080f0"]}, "legend": null}, "strokeDash": {"field": "m", "type": "nominal", "scale": {"domain": ["MA1", "MA2", "MA3", "MA4"], "range": [[1, 0], [1, 0], [1, 0], [1.5, 1.5]]}, "legend": null}}},
  {"data": {"name": "lv"}, "mark": {"type": "rule", "clip": true}, "encoding": {"x2": {"field": "i2"}, "color": {"field": "k", "type": "nominal", "scale": {"domain": ["ret618", "redthin", "ret500", "blue", "gray", "lgray", "green"], "range": ["#9a3aa8", "#f08888", "#f26a6a", "#8c8cf2", "#9fb4b4", "#c4d0d0", "#1f7a1f"]}, "legend": null}, "strokeWidth": {"field": "k", "type": "nominal", "scale": {"domain": ["ret618", "redthin", "ret500", "blue", "gray", "lgray", "green"], "range": [2, 1, 3, 1, 1, 1, 2]}, "legend": null}}},
  {"data": {"name": "lv"}, "transform": [{"filter": "datum.t"}], "mark": {"type": "text", "align": "left", "baseline": "middle", "fontSize": 3.8, "dx": 3}, "encoding": {"x": {"field": "i2", "type": "quantitative", "scale": {"domain": [-0.5, 149.5], "nice": false, "zero": false}, "title": null}, "text": {"field": "t"}, "color": {"field": "k", "type": "nominal", "scale": {"domain": ["ret618", "redthin", "ret500", "blue", "gray", "lgray", "green"], "range": ["#9a3aa8", "#f08888", "#f26a6a", "#7a7ae6", "#8aa0a0", "#a8b8b8", "#1f7a1f"]}, "legend": null}}},
  {"data": {"name": "zz"}, "mark": {"type": "line", "clip": true}, "encoding": {"detail": {"field": "s"}, "color": {"field": "k", "type": "nominal", "scale": {"domain": ["cyan", "red", "green"], "range": ["#78cccc", "#e52a2a", "#35a035"]}, "legend": null}, "strokeWidth": {"field": "k", "type": "nominal", "scale": {"domain": ["cyan", "red", "green"], "range": [1.7, 1, 1]}, "legend": null}}},
  {"data": {"name": "c"}, "mark": {"type": "rule", "strokeWidth": 0.7, "color": "#444"}, "encoding": {"y": {"field": "l", "type": "quantitative", "scale": {"domain": [109.8, 112.97], "nice": false, "zero": false}, "title": null}, "y2": {"field": "h"}}},
  {"data": {"name": "c"}, "mark": {"type": "bar", "width": 2.4, "stroke": "#222", "strokeWidth": 0.4}, "encoding": {"y": {"field": "o", "type": "quantitative", "scale": {"domain": [109.8, 112.97], "nice": false, "zero": false}, "title": null}, "y2": {"field": "c"}, "color": {"condition": {"test": "datum.c >= datum.o", "value": "#b4b4b4"}, "value": "#111111"}}},
  {"data": {"name": "wl"}, "mark": {"type": "text", "fontSize": 4.5, "color": "#333", "baseline": "middle", "align": "center"}, "encoding": {"text": {"field": "t"}}},
  {"data": {"name": "mal"}, "mark": {"type": "text", "fontSize": 4, "color": "#333", "align": "left", "baseline": "middle"}, "encoding": {"x": {"datum": -0.25}, "text": {"field": "l"}}},
  {"data": {"name": "mal"}, "mark": {"type": "text", "fontSize": 4, "align": "left", "baseline": "middle"}, "encoding": {"x": {"datum": 3.25}, "text": {"field": "v"}, "color": {"field": "m", "type": "nominal", "scale": {"domain": ["MA1", "MA2", "MA3", "MA4"], "range": ["#4a4af0", "#f04848", "#2f9a2f", "#f060f0"]}, "legend": null}}},
  {"data": {"values": [{"i": 150, "i2": 154, "p": 110.93, "p2": 110.998}]}, "mark": {"type": "rect", "fill": "#fbf6b4", "stroke": "#888", "strokeWidth": 0.5, "clip": false}, "encoding": {"x2": {"field": "i2"}, "y2": {"field": "p2"}}},
  {"data": {"values": [{"i": 150.2, "p": 110.964, "t": "110.964"}]}, "mark": {"type": "text", "fontSize": 4, "font": "DejaVu Sans Condensed", "align": "left", "baseline": "middle", "color": "#222", "clip": false}, "encoding": {"text": {"field": "t"}}}
]
},
{
"spacing": 0,
"bounds": "flush",
"vconcat": [
{
"width": 567, "height": 24,
"encoding": {"x": {"field": "i", "type": "quantitative", "scale": {"domain": [-0.5, 141.25], "nice": false, "zero": false}, "axis": null}},
"resolve": {"scale": {"color": "independent"}},
"layer": [
  {"data": {"name": "c"}, "mark": {"type": "rule", "strokeWidth": 1, "clip": true}, "encoding": {"y": {"field": "a", "type": "quantitative", "scale": {"domain": [-0.7, 0.5], "nice": false, "zero": false}, "axis": null}, "y2": {"datum": 0}, "color": {"field": "ad", "type": "nominal", "scale": {"domain": ["g", "r"], "range": ["#5aaa5a", "#f07878"]}, "legend": null}}},
  {"data": {"name": "s1"}, "mark": {"type": "line", "strokeWidth": 1, "color": "#b86464", "interpolate": "monotone", "clip": true}, "encoding": {"y": {"field": "v", "type": "quantitative", "scale": {"domain": [-0.7, 0.5], "nice": false, "zero": false}, "axis": null}}},
  {"data": {"name": "leg1"}, "mark": {"type": "text", "fontSize": 4.5, "align": "left", "baseline": "middle"}, "encoding": {"y": {"field": "v", "type": "quantitative", "scale": {"domain": [-0.7, 0.5], "nice": false, "zero": false}, "axis": null}, "text": {"field": "t"}, "color": {"field": "k", "type": "nominal", "scale": {"domain": ["lab", "red", "grn", "mag"], "range": ["#222222", "#e01818", "#1f8a1f", "#e020e0"]}, "legend": null}}}
]
},
{
"width": 567, "height": 24,
"encoding": {"x": {"field": "i", "type": "quantitative", "scale": {"domain": [-0.5, 141.25], "nice": false, "zero": false}, "axis": null}},
"resolve": {"scale": {"color": "independent"}},
"layer": [
  {"data": {"name": "c"}, "mark": {"type": "rule", "strokeWidth": 1, "clip": true}, "encoding": {"y": {"field": "e", "type": "quantitative", "scale": {"domain": [-0.95, 0.25], "nice": false, "zero": false}, "axis": null}, "y2": {"datum": 0}, "color": {"field": "ed", "type": "nominal", "scale": {"domain": ["g", "r"], "range": ["#5aaa5a", "#f07878"]}, "legend": null}}},
  {"data": {"name": "s2"}, "mark": {"type": "line", "strokeWidth": 1, "color": "#b86464", "interpolate": "monotone", "clip": true}, "encoding": {"y": {"field": "v", "type": "quantitative", "scale": {"domain": [-0.95, 0.25], "nice": false, "zero": false}, "axis": null}}},
  {"data": {"name": "leg2"}, "mark": {"type": "text", "fontSize": 4.5, "align": "left", "baseline": "middle"}, "encoding": {"y": {"field": "v", "type": "quantitative", "scale": {"domain": [-0.95, 0.25], "nice": false, "zero": false}, "axis": null}, "text": {"field": "t"}, "color": {"field": "k", "type": "nominal", "scale": {"domain": ["lab", "red", "grn", "mag"], "range": ["#222222", "#e01818", "#1f8a1f", "#e020e0"]}, "legend": null}}}
]
},
{
"width": 567, "height": 24,
"encoding": {"x": {"field": "i", "type": "quantitative", "scale": {"domain": [-0.5, 141.25], "nice": false, "zero": false}, "axis": null},
             "y": {"field": "v", "type": "quantitative", "scale": {"domain": [0, 100], "nice": false, "zero": false}, "axis": null}},
"resolve": {"scale": {"color": "independent", "stroke": "independent"}},
"layer": [
  {"data": {"name": "hz"}, "mark": {"type": "rule", "color": "#bbbbbb", "strokeWidth": 1.5}, "encoding": {"x2": {"field": "i2"}}},
  {"data": {"name": "zn"}, "mark": {"type": "rect", "strokeWidth": 0.5, "clip": true}, "encoding": {"x2": {"field": "i2"}, "y2": {"field": "v2"}, "color": {"field": "k", "type": "nominal", "scale": {"domain": ["ob", "os"], "range": ["#e00000", "#4a8a2a"]}, "legend": null}, "stroke": {"field": "k", "type": "nominal", "scale": {"domain": ["ob", "os"], "range": ["#700000", "#2a5a1a"]}, "legend": null}}},
  {"data": {"name": "st"}, "transform": [{"filter": "datum.s == 'b' || datum.s == 'p'"}], "mark": {"type": "line", "strokeWidth": 0.8, "interpolate": "monotone", "clip": true}, "encoding": {"detail": {"field": "s"}, "color": {"field": "s", "type": "nominal", "scale": {"domain": ["b", "p"], "range": ["#8888d8", "#f08ce8"]}, "legend": null}}},
  {"data": {"name": "st"}, "transform": [{"filter": "datum.s == 'g'"}], "mark": {"type": "line", "strokeWidth": 1.6, "interpolate": "monotone", "color": "#1a8a1a", "clip": true}},
  {"data": {"name": "st"}, "transform": [{"filter": "datum.s == 'r'"}], "mark": {"type": "line", "strokeWidth": 1.4, "interpolate": "monotone", "color": "#9a0000", "clip": true}},
  {"data": {"name": "leg3"}, "mark": {"type": "text", "fontSize": 4.3, "align": "left", "baseline": "middle"}, "encoding": {"text": {"field": "t"}, "color": {"field": "k", "type": "nominal", "scale": {"domain": ["lab", "red", "grn", "mag"], "range": ["#222222", "#e01818", "#1f8a1f", "#e020e0"]}, "legend": null}}}
]
},
{
"width": 567, "height": 20,
"encoding": {"x": {"field": "i", "type": "quantitative", "scale": {"domain": [-0.5, 141.25], "nice": false, "zero": false}, "axis": null},
             "y": {"field": "v", "type": "quantitative", "scale": {"domain": [12, 92], "nice": false, "zero": false}, "axis": null}},
"layer": [
  {"data": {"name": "hz"}, "mark": {"type": "rule", "color": "#aaaaaa", "strokeWidth": 1}, "encoding": {"x2": {"field": "i2"}}},
  {"data": {"name": "rsi"}, "transform": [{"filter": "datum.s == 'e'"}], "mark": {"type": "line", "strokeWidth": 1, "color": "#6fb06f", "interpolate": "monotone", "clip": true}},
  {"data": {"name": "rsi"}, "transform": [{"filter": "datum.s == 'r'"}], "mark": {"type": "line", "strokeWidth": 1, "color": "#f07ef0", "clip": true}},
  {"data": {"name": "leg4"}, "mark": {"type": "text", "fontSize": 4.5, "align": "left", "baseline": "middle"}, "encoding": {"text": {"field": "t"}, "color": {"field": "k", "type": "nominal", "scale": {"domain": ["lab", "red", "grn", "mag"], "range": ["#222222", "#e01818", "#1f8a1f", "#e020e0"]}, "legend": null}}}
]
}
]
}
]
}
